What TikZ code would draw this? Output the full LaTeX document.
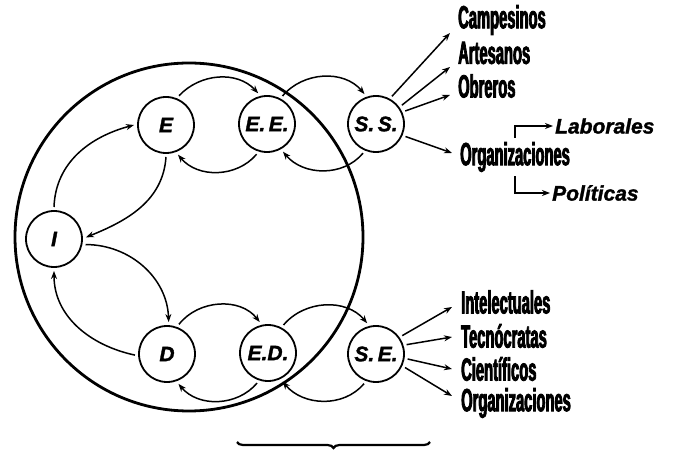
\documentclass[tikz,border=0pt]{standalone}
\usepackage{fontspec}
\setmainfont{Liberation Sans}
\newfontfamily\condfont[FakeStretch=0.46,FakeBold=2.5]{Liberation Sans}
\newfontfamily\heavyfont[FakeBold=1.5]{Liberation Sans}
\usetikzlibrary{arrows.meta,decorations.pathreplacing}

\begin{document}
\begin{tikzpicture}[x=1pt, y=1pt, >={Stealth[length=8pt,width=6pt]},
  every node/.style={font=\heavyfont\bfseries\itshape\fontsize{21}{21}\selectfont}]
\tikzstyle{state}=[draw, circle, line width=1.8pt, minimum size=56pt, inner sep=0pt, outer sep=4pt]
\tikzstyle{group}=[anchor=west, inner sep=0pt, font=\condfont\bfseries\fontsize{32}{32}\selectfont]
\tikzstyle{sub}=[anchor=west, inner sep=0pt, font=\heavyfont\bfseries\itshape\fontsize{21}{21}\selectfont]
\tikzstyle{flow}=[->, line width=1.5pt]
\useasboundingbox (0,0) rectangle (679,452);
% outer ring
\draw[line width=2.8pt] (189,215) circle (174);
% states
\node[state] (e) at (166,327) {E};
\node[state] (ee) at (267,328) {E.\,E.};
\node[state] (ss) at (376,328) {S.\,S.};
\node[state] (i) at (54,213) {I};
\node[state] (d) at (167,98) {D};
\node[state] (ed) at (268,99) {E.D.};
\node[state] (se) at (376,98) {S.\,E.};
% loops between states
\draw[flow] (e.66) to[out=47,in=133] (ee.106);
\draw[flow] (ee.61) to[out=50,in=130] (ss.111);
\draw[flow] (ss.246) to[out=230,in=310] (ee.300);
\draw[flow] (ee.251) to[out=230,in=310] (e.292);
\draw[flow] (i.90) to[out=88,in=195] (e.180);
\draw[flow] (e.270) to[out=266,in=22] (i.3);
\draw[flow] (i.-10) to[out=0,in=92] (d.87);
\draw[flow] (d.182) to[out=168,in=270] (i.270);
\draw[flow] (d.68) to[out=52,in=128] (ed.105);
\draw[flow] (ed.61) to[out=50,in=130] (se.106);
\draw[flow] (se.248) to[out=230,in=310] (ed.297);
\draw[flow] (ed.250) to[out=230,in=310] (d.291);
% upper groups
\node[group] (camp) at (458,432) {Campesinos};
\node[group] (art) at (458,399) {Artesanos};
\node[group] (obr) at (458,366) {Obreros};
\node[group] (orgu) at (460,295) {Organizaciones};
\node[sub] (lab) at (555,326) {Laborales};
\node[sub] (pol) at (552,259) {Políticas};
\draw[flow] (ss.60) -- ([xshift=-8pt,yshift=-13pt]camp.west);
\draw[flow] (ss.36) -- ([xshift=-8pt,yshift=-14pt]art.west);
\draw[flow] (ss.24) -- ([xshift=-8pt,yshift=-9pt]obr.west);
\draw[flow] (ss.-23) -- ([xshift=-8pt,yshift=4pt]orgu.west);
\draw[flow] ([yshift=4pt]orgu.north) |- ([xshift=-2pt]lab.west);
\draw[flow] ([yshift=-4pt]orgu.south) |- ([xshift=-2pt]pol.west);
% lower groups
\node[group] (int) at (461,150) {Intelectuales};
\node[group] (tec) at (461,116) {Tecnócratas};
\node[group] (cie) at (461,83) {Científicos};
\node[group] (orgl) at (461,49) {Organizaciones};
\draw[flow] (se.35) -- ([xshift=-9pt,yshift=-5pt]int.west);
\draw[flow] (se.17) -- ([xshift=-9pt,yshift=-1pt]tec.west);
\draw[flow] (se.-9) -- ([xshift=-9pt]cie.west);
\draw[flow] (se.-25) -- ([xshift=-9pt,yshift=7pt]orgl.west);
% brace
\draw[line width=2.2pt, decorate, decoration={brace, amplitude=6pt}] (430,10) -- (237,10);
\end{tikzpicture}
\end{document}
